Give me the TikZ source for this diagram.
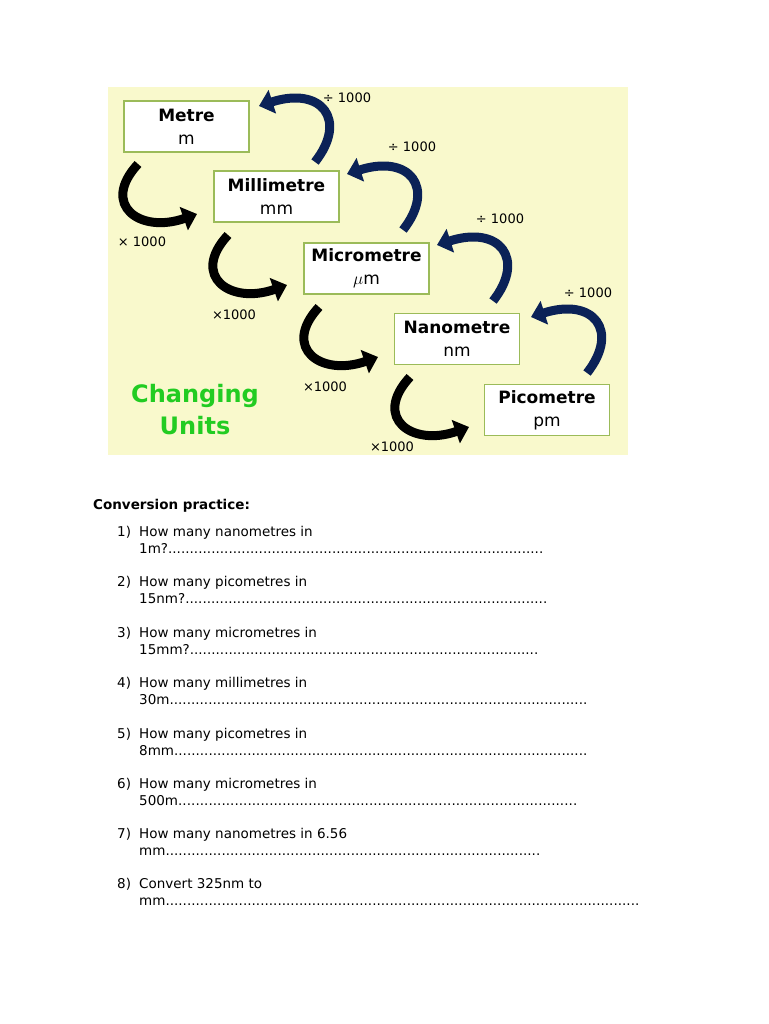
\documentclass[tikz,border=0pt]{standalone}
\usepackage{fontspec}
\setmainfont{DejaVu Sans}
\usetikzlibrary{arrows.meta}
\definecolor{bgy}{HTML}{F9F9CC}
\definecolor{bord}{HTML}{9BBB59}
\definecolor{navy}{HTML}{0B2257}
\definecolor{grn}{HTML}{22CC22}
\begin{document}
\begin{tikzpicture}[x=1pt,y=-1pt,
 box/.style={draw=bord,line width=1.2pt,fill=white,minimum width=125pt,minimum height=51pt,inner sep=0pt,align=center,font=\fontsize{17}{23}\selectfont},
 up/.style={navy,line width=9pt,-{Triangle[width=24pt,length=14pt]}},
 dn/.style={black,line width=9pt,-{Triangle[width=24pt,length=14pt]}},
 lab/.style={font=\fontsize{13}{15}\selectfont,inner sep=0pt},
 q/.style={anchor=north west,align=left,inner sep=0pt,font=\fontsize{13.5}{17}\selectfont}]
\useasboundingbox (0,0) rectangle (768,1024);
\fill[bgy] (108,87) rectangle (628,455);
\node[box] (m) at (186.5,126.5) {\textbf{Metre}\\m};
\node[box] (mm) at (276.5,196.5) {\textbf{Millimetre}\\mm};
\node[box] (um) at (366.5,268.5) {\textbf{Micrometre}\\$\mu$m};
\node[box] (nm) at (457,339) {\textbf{Nanometre}\\nm};
\node[box] (pm) at (547,410) {\textbf{Picometre}\\pm};
\foreach \dx/\dy/\i in {0/0/1,90/71/2,181/143/3,272/213/4}{
 \coordinate (s\i) at (138+\dx,164+\dy);
 \coordinate (e\i) at (197+\dx,214+\dy);
 \draw[dn] (s\i) .. controls ({100+\dx},{205+\dy}) and ({140+\dx},{234+\dy}) .. (e\i);
}
\foreach \dx/\dy/\i in {0/0/1,88/68/2,178/139/3,272/211/4}{
 \coordinate (a\i) at (315+\dx,162+\dy);
 \coordinate (b\i) at (259+\dx,106+\dy);
 \draw[up] (a\i) .. controls ({348+\dx},{120+\dy}) and ({322+\dx},{86+\dy}) .. (b\i);
}
\node[lab] (l1) at (142,242) {× 1000};
\node[lab] (l2) at (234,315) {×1000};
\node[lab] (l3) at (325,387) {×1000};
\node[lab] (l4) at (392,447) {×1000};
\node[lab] (d1) at (347,98) {÷ 1000};
\node[lab] (d2) at (412,147) {÷ 1000};
\node[lab] (d3) at (500,219) {÷ 1000};
\node[lab] (d4) at (588,293) {÷ 1000};
\node[font=\fontsize{24}{32}\selectfont\bfseries,text=grn,align=center] (cu) at (195,410) {Changing\\Units};
\node[q,font=\fontsize{13.5}{17}\selectfont\bfseries] (cp) at (93,499) {Conversion practice:};
\foreach \n/\y/\a/\b/\w in {1/526/How many nanometres in/1m?/404,
 2/576/How many picometres in/15nm?/408,
 3/627/How many micrometres in/15mm?/399,
 4/677/How many millimetres in/30m/448,
 5/728/How many picometres in/8mm/448,
 6/778/How many micrometres in/500m/438,
 7/828/How many nanometres in 6.56/mm/401,
 8/878/Convert 325nm to/mm/500}{
 \node[q] (n\n) at (117,\y) {\n)};
 \node[q] (t\n) at (139,\y) {\a\\\makebox[\w pt][l]{\b\xleaders\hbox{.}\hfill}};
}
\end{tikzpicture}
\end{document}
